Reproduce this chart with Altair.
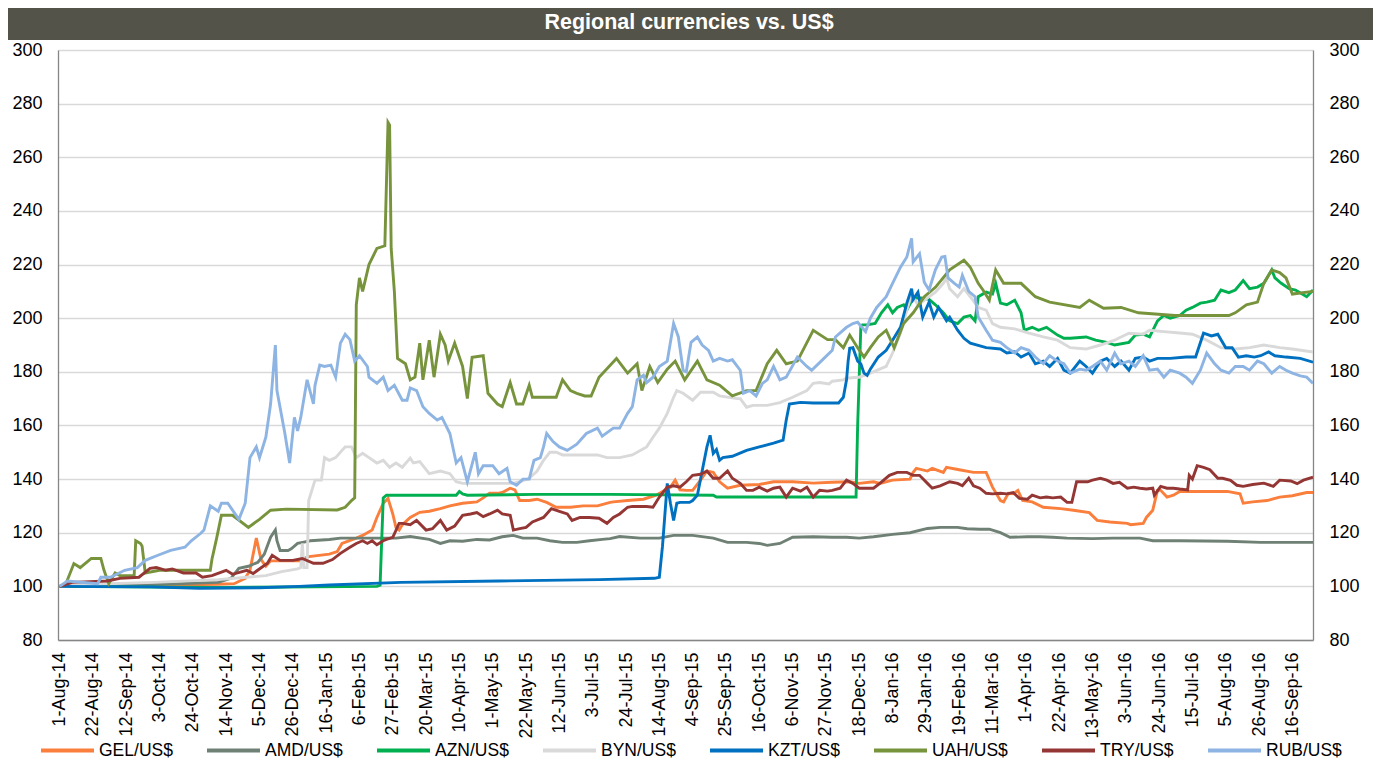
import altair as alt
import pandas as pd

FONT = "Liberation Sans"
BASE = "2014-08-01"
TITLE = "Regional currencies vs. US$"

series_names = ["GEL/US$", "AMD/US$", "AZN/US$", "BYN/US$", "KZT/US$", "UAH/US$", "TRY/US$", "RUB/US$"]
series_colors = ["#FA7E3C", "#6F8075", "#00B050", "#D9D9D9", "#0070C0", "#77933C", "#943634", "#8DB4E2"]

tick_dates = ["2014-08-01", "2014-08-22", "2014-09-12", "2014-10-03", "2014-10-24", "2014-11-14",
              "2014-12-05", "2014-12-26", "2015-01-16", "2015-02-06", "2015-02-27", "2015-03-20",
              "2015-04-10", "2015-05-01", "2015-05-22", "2015-06-12", "2015-07-03", "2015-07-24",
              "2015-08-14", "2015-09-04", "2015-09-25", "2015-10-16", "2015-11-06", "2015-11-27",
              "2015-12-18", "2016-01-08", "2016-01-29", "2016-02-19", "2016-03-11", "2016-04-01",
              "2016-04-22", "2016-05-13", "2016-06-03", "2016-06-24", "2016-07-15", "2016-08-05",
              "2016-08-26", "2016-09-16"]
x_domain = ["2014-07-31", "2016-09-29"]
y_ticks = [80, 100, 120, 140, 160, 180, 200, 220, 240, 260, 280, 300]

# days since 1-Aug-2014 / index value (1-Aug-2014 = 100)
gel_day = [0, 50, 100, 110, 117, 120, 124, 127, 130, 133, 153, 156, 170, 175, 178, 187, 191, 197, 200, 204,
           207, 210, 212, 214, 216, 219, 221, 227, 233, 240, 246, 254, 263, 267, 271, 276, 279, 284, 287, 290,
           296, 301, 307, 313, 322, 330, 339, 347, 349, 358, 368, 376, 385, 388, 391, 395, 399, 404, 408, 412,
           416, 421, 429, 441, 450, 462, 475, 487, 498, 504, 513, 517, 525, 536, 538, 540, 547, 550, 557, 559,
           567, 576, 584, 588, 593, 595, 598, 601, 604, 607, 613, 620, 631, 639, 649, 654, 662, 673, 675, 683,
           685, 689, 692, 694, 698, 702, 706, 736, 744, 746, 752, 761, 769, 777, 786, 790]
gel_val = [100, 100.3, 100.8, 101, 103, 106, 118, 110, 107.5, 109.5, 109.5, 111, 112, 113, 116, 118, 119, 121, 125.7, 131,
           132.8, 127, 122, 121, 123, 124.6, 125.7, 127.6, 128, 129, 130, 131, 131.5, 133, 134.7, 134.7, 135, 136.6, 136, 132,
           132, 132.5, 131.3, 129.5, 129.5, 130, 130, 131.3, 131.5, 132, 132.5, 134, 137, 139.6, 136, 135.8, 135.8, 139.6, 143, 142.5,
           139, 136.6, 137.7, 138, 139, 139, 138.5, 138.8, 139, 138.4, 139, 138.4, 139.6, 140, 142.5, 144, 143, 144, 142.5, 144.4,
           143.5, 142.5, 142.5, 137, 132, 131.5, 134.7, 134.5, 135.8, 132, 131.5, 129.5, 129, 128.4, 127.5, 124.6, 124, 123.5, 123, 123.5,
           125.7, 128.4, 135.8, 135.8, 133.3, 134, 135.4, 135.4, 134.5, 131, 131.5, 132, 133.3, 133.8, 135, 135]

amd_day = [0, 50, 100, 108, 113, 119, 125, 129, 133, 136, 137, 139, 144, 146, 150, 154, 158, 170, 177, 187,
           202, 212, 221, 233, 240, 246, 254, 263, 271, 279, 286, 292, 301, 309, 317, 326, 334, 342, 347, 353,
           366, 378, 387, 399, 412, 421, 433, 441, 446, 454, 462, 475, 487, 496, 504, 513, 525, 536, 547, 555,
           566, 572, 580, 586, 593, 599, 610, 618, 626, 635, 651, 664, 681, 689, 706, 736, 757, 790]
amd_val = [100, 100.5, 101.5, 103, 106.7, 107.5, 109, 112, 118.3, 121, 117, 113.4, 113.4, 114, 116, 116.5, 117, 117.5, 118, 118,
           118, 118, 118.6, 117.5, 116, 117, 116.8, 117.5, 117.3, 118.5, 119, 118, 118, 117, 116.4, 116.4, 117, 117.5, 117.8, 118.6,
           118, 118, 119, 119, 118, 116.4, 116.4, 116, 115.3, 116, 118.3, 118.5, 118.3, 118.3, 118, 118.5, 119.4, 120, 121.6, 122,
           122, 121.5, 121.3, 121.3, 120, 118.3, 118.5, 118.5, 118.3, 118, 117.8, 118, 118, 117, 117, 116.8, 116.4, 116.4]

azn_day = [0, 100, 200, 202, 204, 206, 250, 252, 254, 257, 300, 347, 412, 414, 440, 480, 502, 503, 505, 506,
           509, 514, 518, 522, 525, 528, 532, 534, 538, 543, 548, 552, 557, 561, 566, 570, 574, 577, 579, 584,
           588, 590, 593, 597, 602, 606, 608, 613, 617, 622, 629, 633, 637, 647, 653, 660, 665, 674, 678, 683,
           687, 692, 696, 700, 706, 710, 714, 719, 723, 728, 732, 737, 741, 746, 750, 755, 759, 764, 766, 770,
           775, 779, 786, 790]
azn_val = [100, 99.6, 100, 100.4, 133, 134, 134, 135.4, 134.5, 134, 134.3, 134.3, 134, 133.3, 133.3, 133.3, 133.3, 160, 196.6, 197.5,
           197.5, 198, 202, 205, 202, 204, 205, 203, 207.5, 207.5, 207, 205, 202, 199, 198, 200.4, 201, 199, 208, 209.7,
           209, 213, 205.6, 205, 206.7, 202, 195.5, 196.6, 195.5, 196.6, 193.7, 192.5, 192.5, 193, 191.8, 191, 190, 191, 193.7, 194,
           193, 199, 201, 200, 201, 203, 204, 205.6, 206, 206.7, 210.5, 209.5, 210.5, 214, 211, 211.6, 213, 218, 215, 213,
           211, 210.5, 208, 210.5]

byn_day = [0, 30, 60, 100, 130, 140, 150, 152, 153, 154, 156, 157, 161, 165, 167, 170, 174, 178, 180, 184,
           187, 191, 195, 200, 204, 208, 212, 216, 221, 223, 227, 233, 240, 246, 250, 254, 271, 276, 286, 290,
           296, 301, 305, 309, 313, 317, 323, 330, 339, 345, 353, 361, 370, 374, 378, 383, 387, 389, 393, 399,
           404, 412, 416, 427, 429, 433, 437, 446, 454, 462, 471, 475, 479, 485, 487, 494, 496, 503, 504, 511,
           521, 525, 530, 534, 537, 541, 545, 552, 557, 559, 561, 566, 570, 574, 579, 584, 588, 593, 602, 611,
           620, 629, 637, 647, 656, 665, 669, 674, 683, 687, 696, 706, 714, 723, 732, 741, 750, 759, 769, 777, 790]
byn_val = [100, 101, 101.5, 102.5, 104, 105.5, 106.5, 107, 116, 107, 107, 132, 139.6, 139.6, 148, 147, 148, 150.7, 152, 152,
           148, 149.6, 148, 146, 147, 144.4, 146, 144.4, 147.8, 146, 146.5, 142, 143, 142, 139, 138.4, 138.4, 138.4, 138.4, 139,
           140.3, 143, 147, 150, 150, 149, 149, 149, 149, 148, 148, 149, 152, 155.6, 159, 164.5, 170.5, 173, 172, 169.4,
           172.4, 172.4, 171, 170, 170, 166.8, 167.5, 167.5, 168.5, 170.5, 173, 175.7, 176, 175.5, 176.5, 177, 177.6, 178, 178, 179.5,
           182, 187, 194.4, 203, 209, 205, 206.7, 209.7, 213, 215, 211, 208, 211, 208, 204, 203, 198, 196.6, 196, 194.4,
           193, 191.8, 189, 188.5, 190, 191.8, 193, 194.4, 194, 195.5, 195, 194.5, 194, 191.8, 189, 188.5, 189, 190, 189, 188.5, 187.4]

kzt_day = [0, 57, 88, 126, 151, 170, 215, 277, 340, 375, 378, 380, 383, 385, 387, 389, 391, 397, 399, 402,
           404, 408, 410, 412, 414, 416, 418, 424, 433, 441, 450, 456, 458, 460, 467, 475, 491, 494, 496, 497,
           498, 500, 503, 505, 507, 509, 511, 516, 521, 525, 530, 534, 537, 538, 541, 544, 548, 551, 554, 559,
           561, 566, 570, 574, 584, 593, 597, 602, 606, 611, 615, 620, 624, 629, 633, 637, 643, 647, 651, 656,
           660, 665, 669, 674, 678, 683, 687, 692, 700, 710, 716, 721, 726, 730, 735, 739, 743, 748, 753, 757,
           762, 766, 773, 782, 790]
kzt_val = [100, 99.8, 99.3, 99.5, 100, 100.5, 101.5, 102, 102.5, 103, 103.4, 115, 138.4, 131, 124.6, 131, 131.3, 131.3, 132, 134,
           140, 152, 156.3, 149.6, 151, 147, 148, 148.5, 150.7, 152, 153.4, 154.5, 162, 168, 168.6, 168.4, 168.4, 170.5, 177, 184,
           188.8, 189, 184, 183, 179.5, 178.7, 181, 185.5, 188, 191.8, 196.6, 205.6, 211, 207, 209.7, 200.4, 206, 200.4, 204, 199,
           200.4, 195.5, 192.5, 190.7, 189, 188.5, 187, 187.5, 185.5, 187, 183, 184, 182, 185, 180.6, 179.5, 184, 182, 179.5, 184,
           185, 182, 184, 180.6, 185, 185.5, 184, 185, 185, 185.5, 185.5, 194.4, 193.4, 194, 189, 189, 185.5, 186, 185.5, 186,
           187.4, 186, 185.5, 185, 183.6]

uah_day = [0, 4, 9, 13, 20, 26, 28, 31, 35, 38, 47, 48, 51, 52, 54, 63, 95, 96, 99, 102,
           109, 119, 126, 133, 143, 175, 180, 184, 186, 187, 189, 191, 195, 200, 205, 207, 208, 209, 211, 213,
           218, 221, 224, 227, 229, 233, 236, 240, 243, 245, 249, 254, 257, 260, 267, 270, 276, 279, 284, 288,
           292, 296, 298, 313, 317, 322, 326, 331, 335, 340, 351, 358, 364, 367, 372, 377, 383, 388, 394, 402,
           408, 416, 424, 433, 439, 446, 452, 458, 465, 475, 484, 489, 494, 498, 503, 507, 511, 516, 521, 526,
           532, 538, 545, 552, 561, 570, 574, 579, 582, 586, 590, 595, 606, 615, 624, 643, 649, 658, 669, 680,
           703, 737, 741, 748, 755, 759, 764, 769, 773, 777, 790]
uah_val = [100, 101, 108.5, 107, 110.4, 110.4, 106, 101, 105, 104, 104, 117, 116, 115, 105, 106, 106, 110, 118, 126.5,
           126.5, 122, 125, 128.4, 128.8, 128.5, 129.5, 132, 133, 205, 215, 210, 220, 226, 227, 273, 272, 226, 210, 185,
           183, 177, 178, 190.7, 177, 191.8, 178, 194, 190, 184, 190.7, 182, 170, 185.4, 186, 172, 168, 167, 176, 168,
           168, 175, 170.5, 170.5, 177, 173, 172, 171, 171, 178, 185, 179.5, 183, 173, 182, 176, 181, 184, 177, 184,
           177, 175, 171, 173, 173, 183, 188, 183, 184, 195.5, 192, 192, 189, 193.7, 189, 185.5, 189, 193, 195.5, 189,
           198, 202, 208, 211.5, 218, 221.6, 219, 213, 210.5, 206.7, 218, 213, 213, 208, 206, 204, 206.7, 203.7, 204, 202,
           201, 201, 202, 205, 206, 213, 218, 217, 215, 209, 210]

try_day = [0, 8, 30, 38, 50, 57, 61, 67, 71, 78, 86, 90, 96, 105, 109, 118, 122, 131, 134, 139,
           147, 153, 160, 166, 172, 177, 183, 187, 191, 194, 197, 200, 204, 206, 210, 214, 216, 221, 225, 231,
           235, 240, 244, 249, 254, 259, 263, 267, 271, 276, 279, 284, 286, 290, 294, 298, 305, 310, 315, 320,
           323, 328, 334, 340, 345, 349, 353, 358, 361, 370, 374, 378, 383, 387, 391, 395, 399, 404, 408, 412,
           416, 421, 424, 429, 433, 437, 441, 446, 450, 454, 458, 462, 467, 471, 475, 479, 484, 487, 492, 496,
           500, 504, 513, 517, 523, 528, 534, 538, 542, 547, 550, 555, 561, 566, 569, 573, 576, 580, 584, 588,
           593, 597, 601, 605, 610, 613, 618, 622, 626, 631, 635, 638, 641, 648, 651, 656, 660, 664, 668, 673,
           677, 681, 685, 689, 690, 694, 698, 702, 706, 711, 712, 714, 717, 721, 725, 730, 733, 738, 742, 746,
           752, 759, 765, 769, 776, 780, 784, 790]
try_val = [100, 101.5, 102, 103, 103.4, 106.7, 107, 106, 106.5, 105, 105, 103.4, 104, 106, 104.5, 106, 104.8, 108.6, 111.6, 109.7,
           109.7, 110.4, 108.6, 108.6, 110, 112.3, 114.6, 116, 117, 116, 117, 115.5, 117, 117.5, 118.3, 123.5, 123.5, 123, 124.6, 121,
           121.5, 124.6, 121, 122.5, 126.5, 127, 127.5, 126, 127, 128.4, 127, 126.5, 121, 121.5, 122, 124, 125.7, 129, 128, 127,
           124.6, 125.7, 125.7, 125.4, 123.5, 125.7, 127, 129.5, 129.8, 129.8, 129.5, 133.3, 137, 137.5, 137, 139, 141.4, 141.8, 143, 140.3,
           140.3, 143, 140.3, 138.4, 135.8, 135.8, 137, 135.5, 136.6, 137, 133.3, 136.6, 135.5, 137, 133.3, 135.8, 135.5, 135.8, 136.6, 139.6,
           138.4, 136.6, 136.6, 138.4, 141.4, 142.5, 142.5, 141.4, 141.4, 138.4, 136.6, 137.5, 139, 138.4, 137.5, 140.3, 137.5, 136.6, 134.7, 134.5,
           134.7, 134.5, 135, 132.8, 132.5, 134, 133, 133.3, 133, 133.3, 131.3, 131.3, 139, 139, 139.6, 140.3, 139.6, 138.4, 138.8, 136.6,
           137, 136.6, 136.3, 136.6, 134, 137.3, 136.6, 136.6, 136.3, 136, 141.4, 140, 145, 144.4, 143.5, 140.3, 140.3, 139.5, 137.7, 137.3,
           138, 138.5, 137.3, 139.6, 139.3, 138.3, 139.6, 140.7]

rub_day = [0, 5, 24, 26, 32, 41, 49, 54, 62, 70, 79, 83, 89, 91, 95, 100, 102, 106, 113, 117,
           120, 124, 126, 130, 133, 136, 137, 142, 145, 148, 150, 152, 156, 160, 161, 164, 167, 171, 174, 177,
           180, 183, 186, 189, 194, 195, 200, 204, 207, 211, 216, 219, 221, 225, 229, 233, 238, 241, 246, 250,
           253, 257, 262, 264, 267, 273, 277, 282, 284, 288, 292, 296, 299, 303, 305, 307, 311, 315, 320, 326,
           332, 339, 342, 349, 353, 358, 361, 364, 368, 370, 374, 378, 383, 387, 390, 393, 395, 398, 402, 405,
           409, 412, 416, 421, 424, 429, 431, 435, 439, 443, 446, 450, 454, 458, 465, 471, 474, 480, 487, 489,
           496, 500, 503, 508, 511, 515, 521, 525, 530, 534, 537, 538, 542, 545, 548, 552, 556, 558, 560, 564,
           567, 569, 573, 577, 579, 584, 588, 593, 597, 602, 606, 611, 615, 620, 624, 629, 633, 637, 643, 647,
           651, 656, 660, 665, 669, 674, 678, 683, 687, 692, 696, 700, 706, 710, 714, 719, 723, 728, 732, 737,
           741, 746, 750, 755, 759, 764, 769, 773, 777, 782, 786, 790]
rub_val = [100, 102, 101, 103.4, 103.4, 106, 107, 109.7, 111.6, 113.4, 114.6, 117, 119.8, 121, 130, 128, 131, 131, 125, 131,
           148, 152, 148, 155.6, 168, 190, 173, 157, 146, 163, 158, 163, 177, 168, 175, 182.5, 182, 182.5, 178, 190.7,
           194, 192, 184, 186, 182, 178, 175.7, 178, 173, 175, 169.4, 169.4, 174, 173, 167, 164.5, 162, 163, 157, 146,
           148, 139, 150, 142, 145, 145, 142, 144, 139, 137.7, 140, 140, 147, 148, 152, 157, 154, 152, 150.7, 153,
           157, 159, 156, 159, 159, 164.5, 167, 177, 178.7, 176, 178, 182, 184, 198, 193, 180.6, 180, 191, 193, 190,
           188, 184, 185, 184, 184.5, 180.6, 172, 173, 171, 175.7, 177, 182, 177, 178, 185.5, 182, 180.6, 184, 188, 193,
           196.6, 198, 198.5, 195, 200, 204, 208, 213, 219, 222.8, 229.8, 221, 224, 213.4, 210.5, 218, 222.8, 223, 215, 213,
           211.6, 216, 210, 208, 200.4, 195.5, 191.8, 191, 189, 187, 189, 188, 185.5, 183, 186, 184, 183, 179.5, 181, 180.6,
           182, 184, 180.6, 187, 183, 184, 182, 186, 180.6, 181, 178, 180.6, 179.5, 178, 175.7, 180.6, 187, 183, 180.6, 179.5,
           182, 182, 180.6, 184, 183, 179.5, 182, 180.6, 179.5, 178.5, 178, 175.7]

series_data = [
    ("GEL/US$", gel_day, gel_val), ("AMD/US$", amd_day, amd_val), ("AZN/US$", azn_day, azn_val),
    ("BYN/US$", byn_day, byn_val), ("KZT/US$", kzt_day, kzt_val), ("UAH/US$", uah_day, uah_val),
    ("TRY/US$", try_day, try_val), ("RUB/US$", rub_day, rub_val),
]

frames = []
for name, days, vals in series_data:
    assert len(days) == len(vals), name
    dates = (pd.Timestamp(BASE) + pd.to_timedelta(days, unit="D")).strftime("%Y-%m-%d")
    frames.append(pd.DataFrame({"date": list(dates), "value": vals, "series": name}))
df_all = pd.concat(frames, ignore_index=True)


def ms(d):
    return int(pd.Timestamp(d, tz="UTC").value // 10**6)


tick_ms = [ms(d) for d in tick_dates]
W, H = 1255, 590
PAD = {"left": 50, "top": 42, "right": 60, "bottom": 121}

x_scale = alt.Scale(type="utc", domain=[ms(x_domain[0]), ms(x_domain[1])])
y_scale = alt.Scale(domain=[80, 300], nice=False, zero=False)

x_axis = alt.Axis(values=tick_ms, format="%-d-%b-%y", labelAngle=-90, ticks=False, grid=False,
                  labelPadding=12, labelFontSize=18, labelFont=FONT, labelColor="#000000",
                  domainColor="#868686", domainWidth=1.3, title=None, labelOverlap=False, labelFlush=False)
y_axis_left = alt.Axis(values=y_ticks, ticks=False, grid=True, gridColor="#D9D9D9", gridWidth=1.3,
                       labelPadding=16, labelFontSize=18, labelFont=FONT, labelColor="#000000",
                       domainColor="#868686", domainWidth=1.3, title=None, labelFlush=False)
y_axis_right = alt.Axis(values=y_ticks, orient="right", ticks=False, grid=False,
                        labelPadding=16, labelFontSize=18, labelFont=FONT, labelColor="#000000",
                        domainColor="#868686", domainWidth=1.3, title=None, labelFlush=False)

color_scale = alt.Scale(domain=series_names, range=series_colors)
legend = alt.Legend(title=None, orient="none", legendX=-19, legendY=672, direction="horizontal",
                    columns=8, symbolType="stroke", symbolStrokeWidth=4, symbolSize=2809,
                    labelFont=FONT, labelFontSize=17.5, labelColor="#000000", labelOffset=3,
                    columnPadding=26, labelLimit=200)

series_layers = []
for name in series_names:
    sub = df_all[df_all["series"] == name]
    series_layers.append(
        alt.Chart(sub).mark_line(strokeWidth=2.9, clip=True).encode(
            x=alt.X("date:T", scale=x_scale, axis=x_axis),
            y=alt.Y("value:Q", scale=y_scale, axis=y_axis_left),
            color=alt.Color("series:N", scale=color_scale, legend=legend),
        )
    )
left = alt.layer(*series_layers)

right = alt.Chart(df_all).mark_line(strokeOpacity=0).encode(
    x=alt.X("date:T", scale=x_scale, axis=x_axis),
    y=alt.Y("value:Q", scale=y_scale, axis=y_axis_right),
    detail="series:N",
)

banner_df = pd.DataFrame({"t": [TITLE]})
banner = alt.Chart(banner_df).mark_rect(color="#535349").encode(
    x=alt.value(-PAD["left"]), x2=alt.value(W + PAD["right"]), y=alt.value(-PAD["top"]), y2=alt.value(-10)
)
banner_text = alt.Chart(banner_df).mark_text(
    color="#FFFFFF", font=FONT, fontSize=21.5, fontWeight="bold", align="center", baseline="middle"
).encode(text="t:N", x=alt.value(631), y=alt.value(-27))

chart = alt.layer(banner, banner_text, left, right).resolve_scale(y="independent").properties(
    width=W, height=H,
    autosize=alt.AutoSizeParams(type="none"),
    padding=PAD,
    background="#FFFFFF",
).configure_view(stroke=None)

chart.save("out.html", embed_options={"renderer": "svg", "actions": False})
